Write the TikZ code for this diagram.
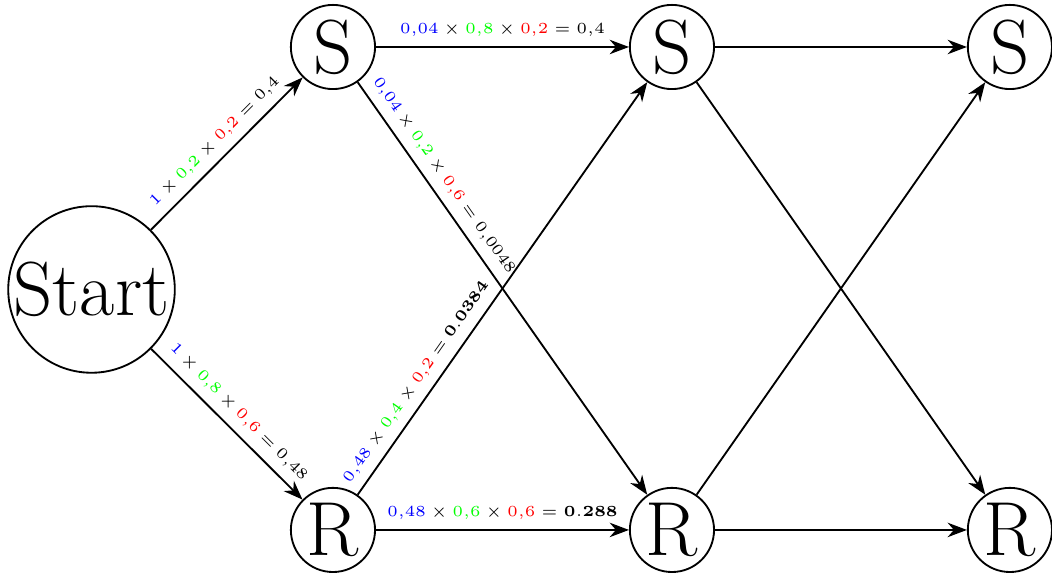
\documentclass[tikz,border=0pt]{standalone}
\usepackage{amsmath,amssymb}
\usepackage{xcolor}
\usepackage{tikz}
\usetikzlibrary{arrows.meta, positioning}
\tikzset{
    st/.style    ={draw, semithick, circle, minimum size=0.96cm,
                   inner sep=0pt, font=\Huge},
    bigst/.style ={st, minimum size=1.9cm},
    ar/.style    ={-{Stealth[length=2.2mm]}, semithick},
    lbl/.style   ={font=\tiny, sloped, above, inner sep=3pt}
}
\newcommand{\pa}[1]{\textcolor{blue}{#1}}
\newcommand{\pb}[1]{\textcolor{green}{#1}}
\newcommand{\pc}[1]{\textcolor{red}{#1}}

\begin{document}
\begin{tikzpicture}
  \useasboundingbox (0,0) rectangle (12,-6.536);
  % states
  \node[bigst] (start) at (1.044,-3.302) {Start};
  \node[st] (s1) at (3.798,-0.536) {S};
  \node[st] (s2) at (7.665,-0.536) {S};
  \node[st] (s3) at (11.52,-0.536) {S};
  \node[st] (r1) at (3.798,-6.045) {R};
  \node[st] (r2) at (7.665,-6.045) {R};
  \node[st] (r3) at (11.52,-6.045) {R};

  % first step
  \draw[ar] (start) -- node[lbl] {$\pa{1}\times\pb{0{,}2}\times\pc{0{,}2}=0{,}4$} (s1);
  \draw[ar] (start) -- node[lbl] {$\pa{1}\times\pb{0{,}8}\times\pc{0{,}6}=0{,}48$} (r1);

  % second step
  \draw[ar] (s1) -- node[lbl] {$\pa{0{,}04}\times\pb{0{,}8}\times\pc{0{,}2}=0{,}4$} (s2);
  \draw[ar] (s1) -- node[lbl, pos=0.25] {$\pa{0{,}04}\times\pb{0{,}2}\times\pc{0{,}6}=0{,}0048$} (r2);
  \draw[ar] (r1) -- node[lbl, pos=0.25] {$\pa{0{,}48}\times\pb{0{,}4}\times\pc{0{,}2}=\mathbf{0.0384}$} (s2);
  \draw[ar] (r1) -- node[lbl] {$\pa{0{,}48}\times\pb{0{,}6}\times\pc{0{,}6}=\mathbf{0.288}$} (r2);

  % third step
  \draw[ar] (s2) -- (s3);
  \draw[ar] (s2) -- (r3);
  \draw[ar] (r2) -- (s3);
  \draw[ar] (r2) -- (r3);
\end{tikzpicture}
\end{document}
